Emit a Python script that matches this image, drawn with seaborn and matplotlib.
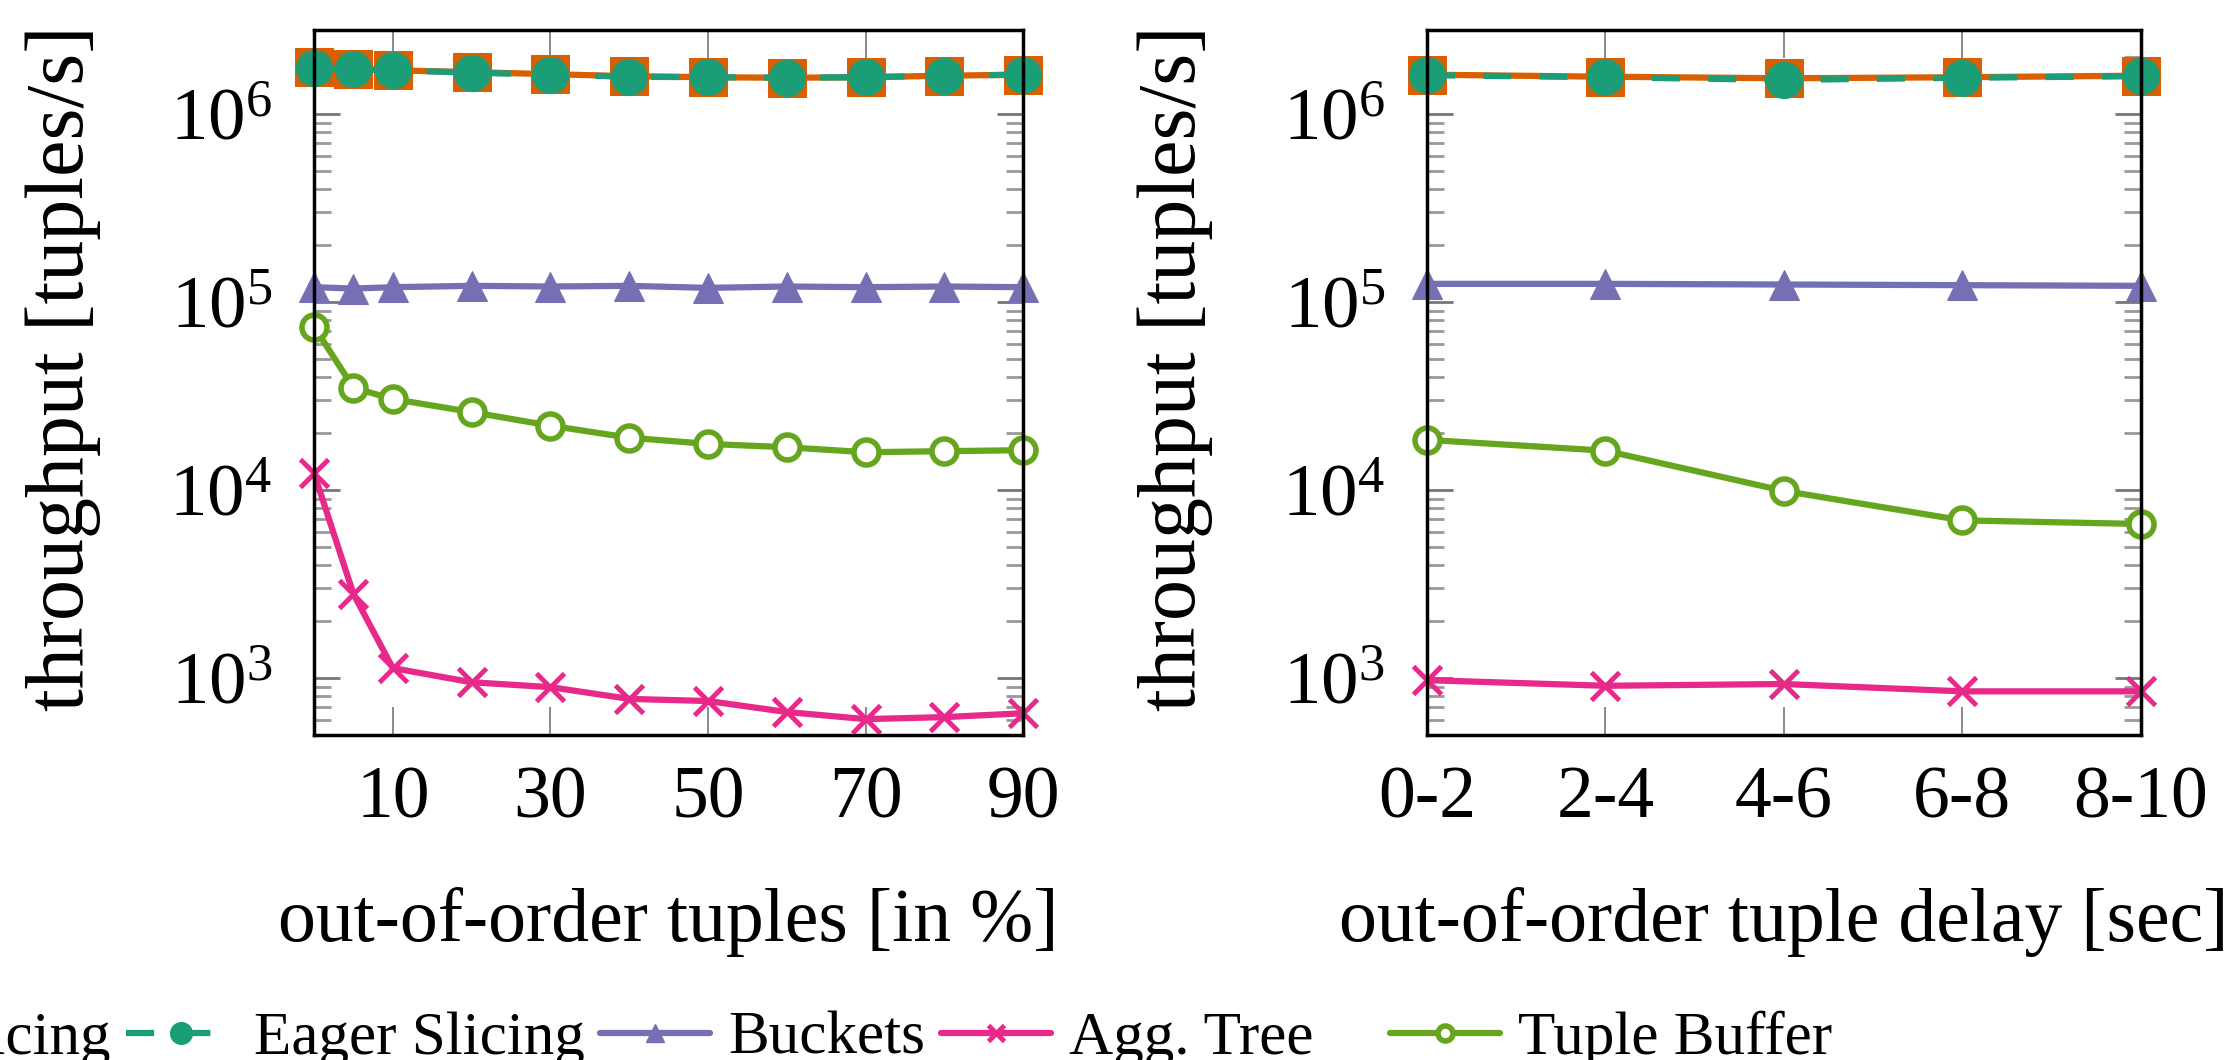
import numpy as np
import seaborn as sns
import matplotlib.pyplot as plt
from matplotlib.lines import Line2D
from matplotlib.ticker import LogLocator, NullFormatter, FixedLocator

# left panel: share of out-of-order tuples [%]
pct = [0, 5, 10, 20, 30, 40, 50, 60, 70, 80, 90]
lazy_pct = [1.78e6, 1.74e6, 1.71e6, 1.67e6, 1.63e6, 1.59e6, 1.57e6, 1.56e6, 1.57e6, 1.60e6, 1.62e6]
eager_pct = [1.76e6, 1.73e6, 1.71e6, 1.66e6, 1.62e6, 1.58e6, 1.57e6, 1.56e6, 1.57e6, 1.60e6, 1.62e6]
buckets_pct = [1.20e5, 1.18e5, 1.20e5, 1.22e5, 1.21e5, 1.22e5, 1.19e5, 1.21e5, 1.20e5, 1.21e5, 1.20e5]
tree_pct = [1.23e4, 2.8e3, 1.13e3, 950, 895, 775, 755, 660, 605, 620, 650]
tbuf_pct = [7.4e4, 3.5e4, 3.05e4, 2.6e4, 2.2e4, 1.9e4, 1.76e4, 1.69e4, 1.59e4, 1.61e4, 1.63e4]

# right panel: out-of-order tuple delay [sec]
delay = ["0-2", "2-4", "4-6", "6-8", "8-10"]
lazy_delay = [1.62e6, 1.58e6, 1.55e6, 1.57e6, 1.60e6]
eager_delay = [1.61e6, 1.57e6, 1.52e6, 1.56e6, 1.59e6]
buckets_delay = [1.25e5, 1.25e5, 1.24e5, 1.23e5, 1.22e5]
tree_delay = [975, 910, 930, 850, 850]
tbuf_delay = [1.85e4, 1.62e4, 9.9e3, 6.9e3, 6.6e3]

names = ["Lazy Slicing", "Eager Slicing", "Buckets", "Agg. Tree", "Tuple Buffer"]

sns.set_style("ticks")
plt.rcParams['font.family'] = ['Liberation Serif', 'DejaVu Serif']
plt.rcParams['mathtext.fontset'] = 'custom'
plt.rcParams['mathtext.rm'] = 'Liberation Serif'
plt.rcParams['mathtext.it'] = 'Liberation Serif:italic'
plt.rcParams['text.color'] = 'black'
plt.rcParams['axes.labelcolor'] = 'black'

pal = sns.color_palette("Dark2")
styles = {
    "Lazy Slicing": dict(color=pal[1], marker="s", markersize=27, linestyle="-"),
    "Eager Slicing": dict(color=pal[0], marker="o", markersize=26, linestyle=(0, (4.5, 4.5))),
    "Buckets": dict(color=pal[2], marker="^", markersize=22, linestyle="-"),
    "Agg. Tree": dict(color=pal[3], marker="x", markersize=20, markeredgewidth=3.5, linestyle="-"),
    "Tuple Buffer": dict(color=pal[4], marker="o", markersize=18, markeredgewidth=4,
                         markerfacecolor="white", linestyle="-"),
}

fig = plt.figure(figsize=(22.32, 10.6), dpi=100)
ax1 = fig.add_axes([0.1407, 0.3066, 0.3177, 0.6651])
ax2 = fig.add_axes([0.6393, 0.3066, 0.3199, 0.6651])

pos = np.arange(len(delay))
left_series = [lazy_pct, eager_pct, buckets_pct, tree_pct, tbuf_pct]
right_series = [lazy_delay, eager_delay, buckets_delay, tree_delay, tbuf_delay]

for ax, xs, series in [(ax1, pct, left_series), (ax2, pos, right_series)]:
    for name, ys in zip(names, series):
        st = styles[name]
        sns.lineplot(x=xs, y=ys, ax=ax, linewidth=4.5, clip_on=False,
                     markeredgecolor=st["color"], **st)
    ax.set_yscale("log")
    ax.set_ylim(498, 2.8e6)
    ax.yaxis.set_major_locator(LogLocator(base=10))
    ax.yaxis.set_minor_locator(LogLocator(base=10, subs=np.arange(2, 10)))
    ax.yaxis.set_minor_formatter(NullFormatter())
    ax.tick_params(axis="y", which="major", direction="in", left=True, right=True,
                   length=19, width=2, color="#777777", pad=30, labelsize=54,
                   labelcolor="black")
    ax.tick_params(axis="y", which="minor", direction="in", left=True, right=True,
                   length=12, width=2, color="#999999")
    ax.tick_params(axis="x", which="major", direction="in", top=True, bottom=True,
                   length=20, width=1.2, color="#777777", pad=22, labelsize=53,
                   labelcolor="black")
    ax.tick_params(axis="x", which="minor", bottom=False, top=False)
    for sp in ax.spines.values():
        sp.set_visible(True)
        sp.set_linewidth(2.5)
        sp.set_color("black")
    ax.set_ylabel("throughput [tuples/s]", fontsize=59)
    ax.yaxis.set_label_coords(-0.30, 0.52)

ax1.set_xlim(0, 90)
ax1.xaxis.set_major_locator(FixedLocator([10, 30, 50, 70, 90]))
ax1.set_xlabel("out-of-order tuples [in %]", fontsize=54.5)
ax1.xaxis.set_label_coords(0.5, -0.215)

ax2.set_xlim(0, len(delay) - 1)
ax2.set_xticks(pos)
ax2.set_xticklabels(delay)
ax2.set_xlabel("out-of-order tuple delay [sec]", fontsize=54.5)
ax2.xaxis.set_label_coords(0.5, -0.215)

handles = []
for name in names:
    st = dict(styles[name])
    st["markersize"] = st["markersize"] * 0.6
    handles.append(Line2D([], [], linewidth=4.5, markeredgecolor=st["color"], **st))
labels = [n if n != "Agg. Tree" else n + "    " for n in names]
fig.legend(handles, labels, loc="center left", bbox_to_anchor=(-0.147, 0.020),
           ncol=5, frameon=False, fontsize=44, handlelength=1.8, handletextpad=0.3,
           columnspacing=0.25, borderpad=0, borderaxespad=0)

fig.savefig("out.png", dpi=100)
